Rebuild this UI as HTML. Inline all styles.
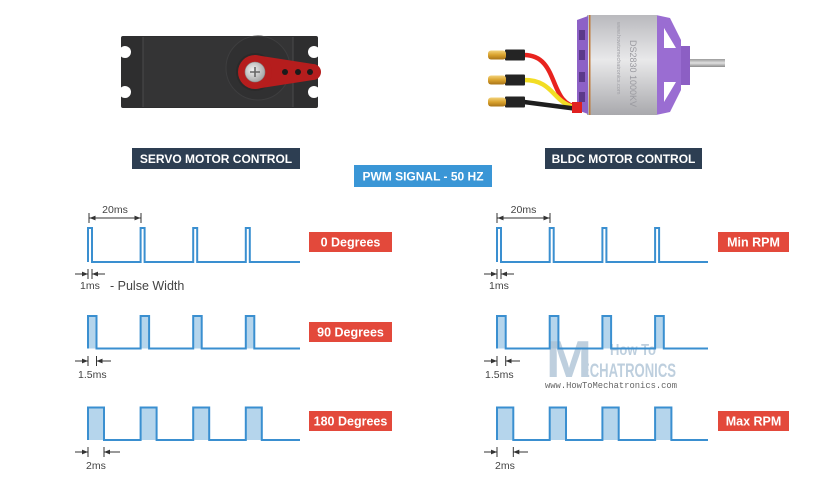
<!DOCTYPE html>
<html><head><meta charset="utf-8"><style>
html,body{margin:0;padding:0;background:#fff;}
svg{display:block;font-family:"Liberation Sans",sans-serif;}
</style></head><body>
<svg width="836" height="500" viewBox="0 0 836 500" xmlns="http://www.w3.org/2000/svg">
<defs>
<linearGradient id="cyl" x1="0" y1="0" x2="0" y2="1">
<stop offset="0" stop-color="#b9b9bd"/><stop offset="0.45" stop-color="#e9e9ea"/><stop offset="1" stop-color="#a9a9ad"/>
</linearGradient>
<linearGradient id="shaft" x1="0" y1="0" x2="0" y2="1">
<stop offset="0" stop-color="#9a9a9a"/><stop offset="0.5" stop-color="#e0e0e0"/><stop offset="1" stop-color="#8c8c8c"/>
</linearGradient>
<linearGradient id="gold" x1="0" y1="0" x2="0" y2="1">
<stop offset="0" stop-color="#f3d27a"/><stop offset="0.5" stop-color="#d9a22e"/><stop offset="1" stop-color="#a87418"/>
</linearGradient>
<radialGradient id="screw" cx="0.4" cy="0.4" r="0.6">
<stop offset="0" stop-color="#f2f2f2"/><stop offset="1" stop-color="#a8a8a8"/>
</radialGradient>
<marker id="ah" viewBox="0 0 10 10" refX="10" refY="5" markerWidth="6" markerHeight="6" orient="auto-start-reverse" markerUnits="userSpaceOnUse">
<path d="M0,1 L10,5 L0,9 z" fill="#333"/>
</marker>
</defs>

<!-- SERVO -->
<g>
<rect x="121" y="36" width="197" height="72" rx="2" fill="#2e2e2f"/>
<rect x="143" y="37" width="150" height="70" fill="#343435"/>
<line x1="143" y1="37" x2="143" y2="107" stroke="#4a4a4b" stroke-width="1"/>
<line x1="293" y1="37" x2="293" y2="107" stroke="#4a4a4b" stroke-width="1"/>
<circle cx="125" cy="52" r="6" fill="#fff"/>
<circle cx="125" cy="92" r="6" fill="#fff"/>
<circle cx="314" cy="52" r="6" fill="#fff"/>
<circle cx="314" cy="92" r="6" fill="#fff"/>
<circle cx="258" cy="68" r="32" fill="#303031" stroke="#3e3e3f" stroke-width="1"/>
<circle cx="255" cy="72" r="19" fill="#2a2a2a"/>
<path d="M255,55 L313,64 A8,8 0 0 1 313,80 L255,89 Z" fill="#b51d1d"/>
<circle cx="255" cy="72" r="17" fill="#b51d1d"/>
<circle cx="255" cy="72" r="10" fill="url(#screw)" stroke="#888" stroke-width="0.6"/>
<path d="M250,72 H260 M255,67 V77" stroke="#666" stroke-width="1.6"/>
<circle cx="285" cy="72" r="3" fill="#1b1b1b"/>
<circle cx="298" cy="72" r="3" fill="#1b1b1b"/>
<circle cx="310" cy="72" r="3" fill="#1b1b1b"/>
</g>

<!-- BLDC MOTOR -->
<g>
<rect x="680" y="59" width="45" height="8" fill="url(#shaft)"/>
<rect x="676" y="46" width="14" height="39" fill="#8c5fc4"/>
<path d="M656,15 L670,18 L681,40 L681,90 L670,112 L656,115 Z" fill="#9a6dd2"/>
<path d="M664,28 L676,48 L664,48 Z" fill="#fff"/>
<path d="M664,82 L676,82 L664,102 Z" fill="#fff"/>
<rect x="587" y="15" width="70" height="100" fill="url(#cyl)"/>
<rect x="589" y="15" width="1.5" height="100" fill="#c07a3a"/>
<path d="M577,20 L588,16 L588,114 L577,110 Z" fill="#8d61c6"/>
<rect x="579" y="30" width="6" height="10" fill="#5b3a8a"/>
<rect x="579" y="50" width="6" height="10" fill="#5b3a8a"/>
<rect x="579" y="72" width="6" height="10" fill="#5b3a8a"/>
<rect x="579" y="92" width="6" height="10" fill="#5b3a8a"/>
<text transform="translate(630,40) rotate(90)" font-size="9" fill="#9a9aa0">DS2830 1000KV</text>
<text transform="translate(617,22) rotate(90)" font-size="5.5" fill="#a0a0a6">www.howtomechatronics.com</text>
<path d="M524,55 C560,55 548,105 578,107" stroke="#e8231e" stroke-width="4.5" fill="none"/>
<path d="M524,80 C555,80 552,104 578,108" stroke="#f2dd24" stroke-width="4.5" fill="none"/>
<path d="M524,102 L578,109" stroke="#1e1e1e" stroke-width="4.5" fill="none"/>
<rect x="572" y="102" width="10" height="11" fill="#e02020"/>
<rect x="505" y="49.5" width="20" height="11" rx="1" fill="#242424"/>
<rect x="505" y="74.5" width="20" height="11" rx="1" fill="#242424"/>
<rect x="505" y="96.5" width="20" height="11" rx="1" fill="#242424"/>
<rect x="488" y="50.5" width="18" height="9" rx="3" fill="url(#gold)"/>
<rect x="488" y="75.5" width="18" height="9" rx="3" fill="url(#gold)"/>
<rect x="488" y="97.5" width="18" height="9" rx="3" fill="url(#gold)"/>
</g>

<!-- header boxes -->
<rect x="132" y="148" width="168" height="21" fill="#2d3e52"/>
<text x="216" y="163" font-size="12" font-weight="bold" fill="#fff" text-anchor="middle">SERVO MOTOR CONTROL</text>
<rect x="545" y="148" width="157" height="21" fill="#2d3e52"/>
<text x="623.5" y="163" font-size="12" font-weight="bold" fill="#fff" text-anchor="middle">BLDC MOTOR CONTROL</text>
<rect x="354" y="165" width="138" height="22" fill="#3a96d6"/>
<text x="423" y="180.5" font-size="12" font-weight="bold" fill="#fff" text-anchor="middle">PWM SIGNAL - 50 HZ</text>

<!-- red labels -->
<g font-size="12.5" font-weight="bold" fill="#fff" text-anchor="middle">
<rect x="309" y="232" width="83" height="20" fill="#e3493b"/>
<text x="350.5" y="246.5">0 Degrees</text>
<rect x="309" y="322" width="83" height="20" fill="#e3493b"/>
<text x="350.5" y="336.5">90 Degrees</text>
<rect x="309" y="411" width="83" height="20" fill="#e3493b"/>
<text x="350.5" y="425.5">180 Degrees</text>
<rect x="718" y="232" width="71" height="20" fill="#e3493b"/>
<text x="753.5" y="246.5">Min RPM</text>
<rect x="718" y="411" width="71" height="20" fill="#e3493b"/>
<text x="753.5" y="425.5">Max RPM</text>
</g>

<!-- pulse fills -->
<g fill="#b5d5ec">
<rect x="88" y="316" width="8.5" height="32.5"/><rect x="140.6" y="316" width="8.5" height="32.5"/><rect x="193.2" y="316" width="8.5" height="32.5"/><rect x="245.8" y="316" width="8.5" height="32.5"/>
<rect x="88" y="407.5" width="16" height="32.5"/><rect x="140.6" y="407.5" width="16" height="32.5"/><rect x="193.2" y="407.5" width="16" height="32.5"/><rect x="245.8" y="407.5" width="16" height="32.5"/>
<rect x="497" y="316" width="8.7" height="32.5"/><rect x="549.7" y="316" width="8.7" height="32.5"/><rect x="602.4" y="316" width="8.7" height="32.5"/><rect x="655.1" y="316" width="8.7" height="32.5"/>
<rect x="497" y="407.5" width="16.3" height="32.5"/><rect x="549.7" y="407.5" width="16.3" height="32.5"/><rect x="602.4" y="407.5" width="16.3" height="32.5"/><rect x="655.1" y="407.5" width="16.3" height="32.5"/>
</g>

<!-- watermark -->
<g opacity="0.75">
<text x="546" y="377" font-size="52" font-weight="bold" fill="#a9c0d3" textLength="46" lengthAdjust="spacingAndGlyphs">M</text>
<text x="610" y="355" font-size="16" font-weight="bold" fill="#a9c0d3" textLength="46" lengthAdjust="spacingAndGlyphs">How To</text>
<text x="581" y="377" font-size="19" font-weight="bold" fill="#a9c0d3" textLength="95" lengthAdjust="spacingAndGlyphs">ECHATRONICS</text>
</g>
<text x="545" y="388" font-family="Liberation Mono, monospace" font-size="9" fill="#666" textLength="132" lengthAdjust="spacingAndGlyphs">www.HowToMechatronics.com</text>

<!-- waveforms -->
<g fill="none" stroke="#3a8fd0" stroke-width="2" stroke-linejoin="miter">
<path d="M88,262 V228 H92 V262 H140.6 V228 H144.6 V262 H193.2 V228 H197.2 V262 H245.8 V228 H249.8 V262 H300"/>
<path d="M88,348.5 V316 H96.5 V348.5 H140.6 V316 H149.1 V348.5 H193.2 V316 H201.7 V348.5 H245.8 V316 H254.3 V348.5 H300"/>
<path d="M88,440 V407.5 H104 V440 H140.6 V407.5 H156.6 V440 H193.2 V407.5 H209.2 V440 H245.8 V407.5 H261.8 V440 H300"/>
<path d="M497,262 V228 H501 V262 H549.7 V228 H553.7 V262 H602.4 V228 H606.4 V262 H655.1 V228 H659.1 V262 H708"/>
<path d="M497,348.5 V316 H505.7 V348.5 H549.7 V316 H558.4 V348.5 H602.4 V316 H611.1 V348.5 H655.1 V316 H663.8 V348.5 H708"/>
<path d="M497,440 V407.5 H513.3 V440 H549.7 V407.5 H566 V440 H602.4 V407.5 H618.7 V440 H655.1 V407.5 H671.4 V440 H708"/>
</g>

<!-- dimension markers -->
<g stroke="#333" stroke-width="1" fill="none">
<!-- 20ms left -->
<path d="M89,213 V223 M141,213 V223"/>
<line x1="89.5" y1="218" x2="140.5" y2="218" marker-start="url(#ah)" marker-end="url(#ah)"/>
<!-- 20ms right -->
<path d="M497,213 V223 M550,213 V223"/>
<line x1="497.5" y1="218" x2="549.5" y2="218" marker-start="url(#ah)" marker-end="url(#ah)"/>
<!-- row1 left -->
<path d="M88,269 V279 M92,269 V279"/>
<line x1="75" y1="274" x2="88" y2="274" marker-end="url(#ah)"/>
<line x1="105" y1="274" x2="92" y2="274" marker-end="url(#ah)"/>
<!-- row2 left -->
<path d="M88,356 V366 M96.5,356 V366"/>
<line x1="75" y1="361" x2="88" y2="361" marker-end="url(#ah)"/>
<line x1="111" y1="361" x2="96.5" y2="361" marker-end="url(#ah)"/>
<!-- row3 left -->
<path d="M88,447 V457 M104,447 V457"/>
<line x1="75" y1="452" x2="88" y2="452" marker-end="url(#ah)"/>
<line x1="120" y1="452" x2="104" y2="452" marker-end="url(#ah)"/>
<!-- row1 right -->
<path d="M497,269 V279 M501,269 V279"/>
<line x1="484" y1="274" x2="497" y2="274" marker-end="url(#ah)"/>
<line x1="514" y1="274" x2="501" y2="274" marker-end="url(#ah)"/>
<!-- row2 right -->
<path d="M497,356 V366 M505.7,356 V366"/>
<line x1="484" y1="361" x2="497" y2="361" marker-end="url(#ah)"/>
<line x1="520" y1="361" x2="505.7" y2="361" marker-end="url(#ah)"/>
<!-- row3 right -->
<path d="M497,447 V457 M513.3,447 V457"/>
<line x1="484" y1="452" x2="497" y2="452" marker-end="url(#ah)"/>
<line x1="528" y1="452" x2="513.3" y2="452" marker-end="url(#ah)"/>
</g>

<g font-size="10.5" fill="#444">
<text x="115" y="213" text-anchor="middle">20ms</text>
<text x="523.5" y="213" text-anchor="middle">20ms</text>
<text x="80" y="289">1ms</text>
<text x="110" y="290" font-size="12.5">- Pulse Width</text>
<text x="78" y="378">1.5ms</text>
<text x="86" y="469">2ms</text>
<text x="489" y="289">1ms</text>
<text x="485" y="378">1.5ms</text>
<text x="495" y="469">2ms</text>
</g>
</svg>
</body></html>
